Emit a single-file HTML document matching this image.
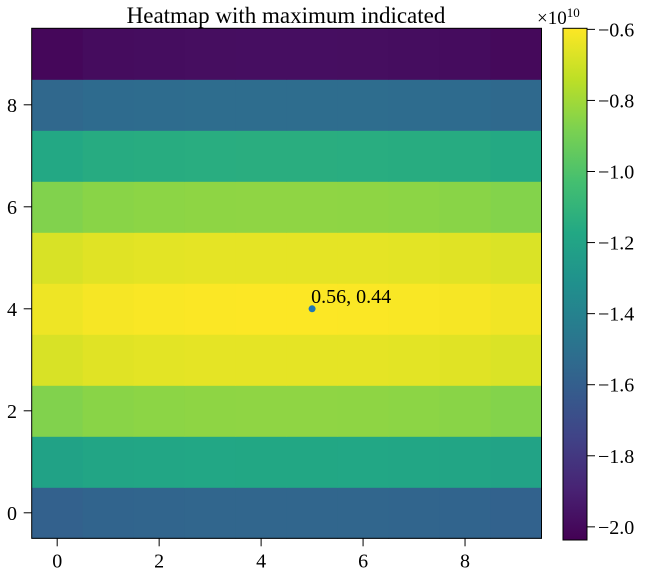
<!DOCTYPE html>
<html><head><meta charset="utf-8"><style>
html,body{margin:0;padding:0;background:#fff;}
svg text{font-family:"Liberation Serif","Times New Roman",serif;fill:#000;}
</style></head><body>
<svg id="chart" width="650" height="577" xmlns="http://www.w3.org/2000/svg">
<defs><linearGradient id="vir" x1="0" y1="1" x2="0" y2="0"></linearGradient></defs>
<text x="286" y="23" font-size="23" text-anchor="middle">Heatmap with maximum indicated</text>
<g id="cells"></g>
<g id="axes"></g>
<g id="cbar"></g>
</svg>
<script>
// data
const rowValues = [-1.56, -1.18, -0.84, -0.65, -0.60, -0.65, -0.84, -1.14, -1.52, -1.98];
const colOffsets = [-0.03, -0.012, -0.006, -0.002, 0, 0, -0.002, -0.006, -0.012, -0.025];
const xTicks = [0, 2, 4, 6, 8];
const yTicks = [0, 2, 4, 6, 8];
const cbTicks = [-0.6, -0.8, -1.0, -1.2, -1.4, -1.6, -1.8, -2.0];
const maxPoint = [5, 4];
const maxLabel = "0.56, 0.44";
const vmin = -2.037, vmax = -0.597;

const NS = "http://www.w3.org/2000/svg";
const L = 31.7, R = 541.5, T = 28.3, B = 538.3;
const sx = v => L + (v + 0.5) * (R - L) / 10;
const sy = v => B - (v + 0.5) * (B - T) / 10;
const CL = 563, CR = 587, CT = 28.3, CB = 540;
const cy = v => CB - (v - vmin) / (vmax - vmin) * (CB - CT);
const vir = [[68,1,84],[72,35,116],[64,67,135],[52,94,141],[41,120,142],[32,144,141],[34,168,132],[68,191,112],[122,209,81],[189,223,38],[253,231,37]];
function viridis(t){t=Math.max(0,Math.min(1,t));const p=t*10,i=Math.min(9,Math.floor(p)),f=p-i;const a=vir[i],b=vir[i+1];
 return `rgb(${a.map((c,k)=>Math.round(c+(b[k]-c)*f)).join(',')})`;}
function mk(tag, attrs, parent){const e=document.createElementNS(NS,tag);for(const k in attrs)e.setAttribute(k,attrs[k]);parent.appendChild(e);return e;}

const cells = document.getElementById('cells');
rowValues.forEach((rv, r) => colOffsets.forEach((co, c) => {
  const v = rv + co;
  const e = mk('rect', {x: sx(c - 0.5), y: sy(r + 0.5), width: sx(c + 0.5) - sx(c - 0.5) + 0.5, height: sy(r - 0.5) - sy(r + 0.5) + 0.5, fill: viridis((v - vmin) / (vmax - vmin))}, cells);
  
  
}));

const axes = document.getElementById('axes');
const frame = mk('rect', {x: L, y: T, width: R - L, height: B - T, fill: 'none', stroke: '#000', 'stroke-width': 1}, axes);


xTicks.forEach(t => {
  mk('line', {x1: sx(t), x2: sx(t), y1: B, y2: B + 8, stroke: '#000'}, axes);
  const tx = mk('text', {x: sx(t), y: B + 29, 'font-size': 20, 'text-anchor': 'middle'}, axes);
  tx.textContent = t;
  
  
});
yTicks.forEach(t => {
  mk('line', {x1: L - 8, x2: L, y1: sy(t), y2: sy(t), stroke: '#000'}, axes);
  const tx = mk('text', {x: 17, y: sy(t) + 7, 'font-size': 20, 'text-anchor': 'end'}, axes);
  tx.textContent = t;
  
  
});
const pt = mk('circle', {cx: sx(maxPoint[0]), cy: sy(maxPoint[1]), r: 3.5, fill: '#1f77b4'}, axes);


const lbl = mk('text', {x: sx(maxPoint[0]) - 1, y: sy(maxPoint[1]) - 6, 'font-size': 20}, axes);
lbl.textContent = maxLabel;



const grad = document.getElementById('vir');
vir.forEach((c, i) => mk('stop', {offset: i / 10, 'stop-color': `rgb(${c.join(',')})`}, grad));
const cb = document.getElementById('cbar');
const cbr = mk('rect', {x: CL, y: CT, width: CR - CL, height: CB - CT, fill: 'url(#vir)', stroke: '#000', 'stroke-width': 1}, cb);


cbTicks.forEach(t => {
  mk('line', {x1: CR, x2: CR + 8, y1: cy(t), y2: cy(t), stroke: '#000'}, cb);
  const tx = mk('text', {x: CR + 11, y: cy(t) + 7, 'font-size': 20}, cb);
  tx.textContent = '\u2212' + Math.abs(t).toFixed(1);
  
  
});
const ex = mk('text', {x: 537, y: 24, 'font-size': 19}, cb);
const t1 = mk('tspan', {}, ex); t1.textContent = '\u00d710';
const t2 = mk('tspan', {dy: -7, 'font-size': 13}, ex); t2.textContent = '10';


</script>
</body></html>
